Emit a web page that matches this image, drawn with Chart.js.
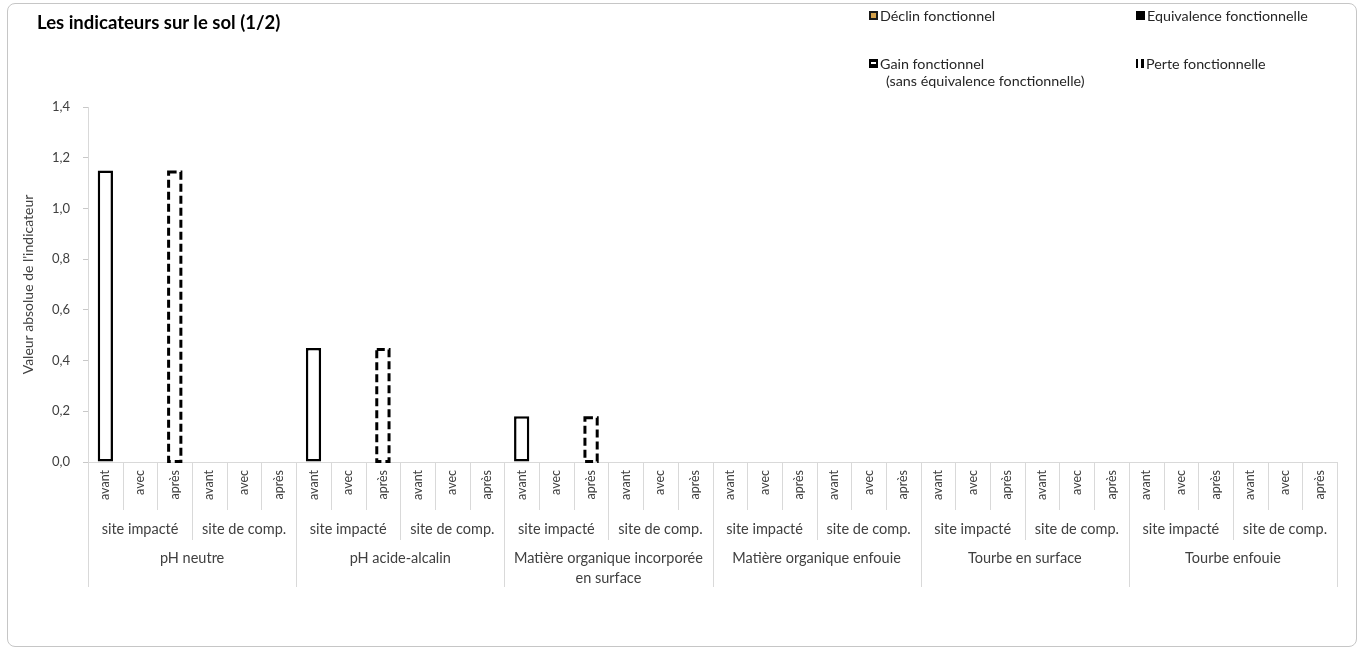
<!DOCTYPE html>
<html lang="fr">
<head>
<meta charset="utf-8">
<script src="https://cdn.jsdelivr.net/npm/chart.js"></script>
<style>
  html, body { margin: 0; padding: 0; background: #fff; }
  #wrap { position: relative; width: 1363px; height: 650px; font-family: Lato, "Open Sans", sans-serif; }
  #cadre { position: absolute; left: 7px; top: 3px; width: 1350px; height: 644px; border: 1px solid #c6c6c6; border-radius: 8px; box-sizing: border-box; }
  #titre { position: absolute; left: 37px; top: 11px; font-weight: bold; font-size: 18.5px; color: #000; }
  #legende { position: absolute; left: 869px; top: 7px; display: grid; grid-template-columns: 267px auto; grid-template-rows: 48px auto; }
  .item { display: flex; font-size: 14.3px; line-height: 17px; color: #262626; }
  .item .suite { display: block; padding-left: 6px; }
  .ico { width: 9px; height: 9px; margin-top: 4px; margin-right: 2px; box-sizing: border-box; flex: none; }
  canvas { position: absolute; left: 0; top: 0; }
</style>
</head>
<body>
<div id="wrap">
  <div id="cadre"></div>
  <canvas id="graphique" width="1363" height="650"></canvas>
  <div id="titre">Les indicateurs sur le sol (1/2)</div>
  <div id="legende"></div>
</div>
<script>
// axe des abscisses : indicateur > site > moment
const groupes = [
  ["pH neutre"],
  ["pH acide-alcalin"],
  ["Matière organique incorporée", "en surface"],
  ["Matière organique enfouie"],
  ["Tourbe en surface"],
  ["Tourbe enfouie"]
];
const sites = ["site impacté", "site de comp."];
const moments = ["avant", "avec", "après"];

// axe des ordonnées
const yMin = 0;
const yMax = 1.4;
const yPas = 0.2;

// une ligne par indicateur : site impacté (avant, avec, après), site de comp. (avant, avec, après)
const valeurAvant = [
  1.15, null, null, null, null, null,
  0.45, null, null, null, null, null,
  0.18, null, null, null, null, null,
  null, null, null, null, null, null,
  null, null, null, null, null, null,
  null, null, null, null, null, null
];
const perteFonctionnelle = [
  null, null, 1.15, null, null, null,
  null, null, 0.45, null, null, null,
  null, null, 0.18, null, null, null,
  null, null, null, null, null, null,
  null, null, null, null, null, null,
  null, null, null, null, null, null
];
const declinFonctionnel = [];
const equivalenceFonctionnelle = [];
const gainFonctionnel = [];

const categories = [];
groupes.forEach(() => sites.forEach(() => moments.forEach(m => categories.push(m))));

Chart.defaults.font.family = 'Lato, "Open Sans", sans-serif';
Chart.defaults.color = '#404040';

// barres au contour en pointillés (Chart.js ne sait pas le faire seul)
const barresPointillees = {
  id: 'barresPointillees',
  afterDatasetsDraw(chart) {
    const ctx = chart.ctx;
    chart.data.datasets.forEach((ds, i) => {
      if (!ds.pointilles) return;
      const meta = chart.getDatasetMeta(i);
      ctx.save();
      ctx.strokeStyle = '#000';
      ctx.lineWidth = 3;
      ctx.setLineDash([8, 4]);
      meta.data.forEach((barre, j) => {
        if (ds.data[j] == null) return;
        const { x, y, base, width } = barre.getProps(['x', 'y', 'base', 'width'], true);
        const g = x - width / 2 + 1.5;
        ctx.strokeRect(g, y + 1.5, width - 3, base - y - 1.5);
      });
      ctx.restore();
    });
  }
};

// étiquettes à plusieurs niveaux sous l'axe
const axeMultiNiveaux = {
  id: 'axeMultiNiveaux',
  afterDraw(chart) {
    const sx = chart.scales.x, ctx = chart.ctx;
    const n = chart.data.labels.length;
    const haut = sx.top;
    const bord = i => i === 0 ? sx.left : i === n ? sx.right
      : (sx.getPixelForValue(i - 1) + sx.getPixelForValue(i)) / 2;
    ctx.save();
    ctx.strokeStyle = '#d9d9d9';
    ctx.lineWidth = 1;
    for (let i = 0; i <= n; i++) {
      const long = i % 6 === 0 ? 125 : i % 3 === 0 ? 78 : 48;
      const px = Math.round(bord(i)) + 0.5;
      ctx.beginPath();
      ctx.moveTo(px, haut);
      ctx.lineTo(px, haut + long);
      ctx.stroke();
    }
    ctx.fillStyle = '#404040';
    ctx.textAlign = 'center';
    ctx.textBaseline = 'middle';
    ctx.font = '14.5px Lato, "Open Sans", sans-serif';
    for (let k = 0; k < n / 3; k++) {
      ctx.fillText(sites[k % 2], (bord(k * 3) + bord(k * 3 + 3)) / 2, haut + 67);
    }
    groupes.forEach((g, k) => {
      const cx = (bord(k * 6) + bord(k * 6 + 6)) / 2;
      g.forEach((ligne, l) => ctx.fillText(ligne, cx, haut + 96 + l * 20));
    });
    ctx.restore();
  }
};

const chart = new Chart(document.getElementById('graphique'), {
  type: 'bar',
  data: {
    labels: categories,
    datasets: [
      { label: 'Valeur initiale', data: valeurAvant, backgroundColor: '#fff', borderColor: '#000', borderWidth: 2.5, borderSkipped: false },
      { label: 'Déclin fonctionnel', data: declinFonctionnel, backgroundColor: '#d4a24c', borderColor: '#1a1a1a', borderWidth: 1, legende: 'declin' },
      { label: 'Equivalence fonctionnelle', data: equivalenceFonctionnelle, backgroundColor: '#000', borderColor: '#000', legende: 'plein' },
      { label: 'Gain fonctionnel', suite: '(sans équivalence fonctionnelle)', data: gainFonctionnel, backgroundColor: '#000', borderColor: '#000', legende: 'gain' },
      { label: 'Perte fonctionnelle', data: perteFonctionnelle, backgroundColor: '#fff', borderColor: '#000', borderWidth: 0, pointilles: true, legende: 'perte' }
    ]
  },
  options: {
    responsive: false,
    animation: false,
    grouped: false,
    categoryPercentage: 1,
    barPercentage: 0.44,
    layout: { padding: { left: 0, right: 26, top: 107, bottom: 0 } },
    plugins: { legend: { display: false }, title: { display: false }, tooltip: { enabled: false } },
    scales: {
      x: {
        offset: true,
        grid: { display: false, drawTicks: false },
        border: { display: true, color: '#d9d9d9', width: 1 },
        ticks: { autoSkip: false, minRotation: 90, maxRotation: 90, padding: 8, font: { size: 12.5 } },
        afterFit(s) { s.height = 188; }
      },
      y: {
        min: yMin,
        max: yMax,
        ticks: { stepSize: yPas, padding: 13, font: { size: 13 },
          callback: v => v.toFixed(1).replace('.', ',') },
        grid: { drawOnChartArea: false, drawTicks: true, tickLength: 5, color: '#c8c8c8' },
        border: { display: true, color: '#d9d9d9', width: 1 },
        title: { display: true, text: "Valeur absolue de l'indicateur", font: { size: 14 }, padding: { top: 20, bottom: 0 } },
        afterFit(s) { s.width = 88; }
      }
    }
  },
  plugins: [barresPointillees, axeMultiNiveaux]
});

// légende HTML construite à partir des séries
const icones = {
  declin: 'background:#d4a24c;border:2px solid #1a1a1a;',
  plein: 'background:#000;',
  gain: 'background:linear-gradient(#000 0 3px,#fff 3px 5px,#000 5px) 2px 0/5px 9px no-repeat,#000;',
  perte: 'border-left:2px solid #000;border-right:3px solid #000;width:8px;'
};
const legende = document.getElementById('legende');
chart.data.datasets.filter(d => d.legende).forEach(d => {
  const item = document.createElement('div');
  item.className = 'item';
  const ico = document.createElement('span');
  ico.className = 'ico';
  ico.style.cssText = icones[d.legende];
  const txt = document.createElement('span');
  txt.textContent = d.label;
  if (d.suite) {
    const s = document.createElement('span');
    s.className = 'suite';
    s.textContent = d.suite;
    txt.appendChild(s);
  }
  item.appendChild(ico);
  item.appendChild(txt);
  legende.appendChild(item);
});
</script>
</body>
</html>
